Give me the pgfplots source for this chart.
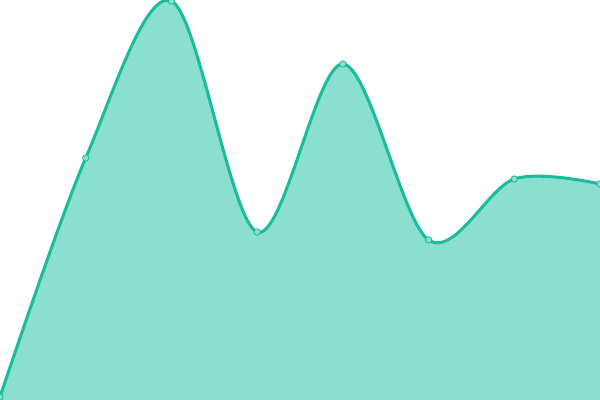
\documentclass[border=0pt]{standalone}
\usepackage{pgfplots}
\pgfplotsset{compat=1.18}
\definecolor{lineteal}{HTML}{1ABC9C}
\definecolor{fillteal}{HTML}{8BDFCF}
\begin{document}
\begin{tikzpicture}
  \begin{axis}[
    width=6in, height=4in,
    scale only axis,
    hide axis,
    xmin=0, xmax=7,
    ymin=0, ymax=400,
    clip=true,
  ]
    \addplot[draw=none, fill=fillteal, smooth, tension=0.55] coordinates {
      (0,3) (1,242) (2,399) (3,168) (4,336) (5,160) (6,221) (7,216)
    } \closedcycle;
    \addplot[color=lineteal, line width=2.2pt, smooth, tension=0.55,
      mark=*, mark size=2.3pt,
      mark options={fill=fillteal, draw=lineteal, line width=0.6pt}] coordinates {
      (0,3) (1,242) (2,399) (3,168) (4,336) (5,160) (6,221) (7,216)
    };
  \end{axis}
  \pgfresetboundingbox
  \path (current axis.south west) rectangle (current axis.north east);
\end{tikzpicture}
\end{document}
